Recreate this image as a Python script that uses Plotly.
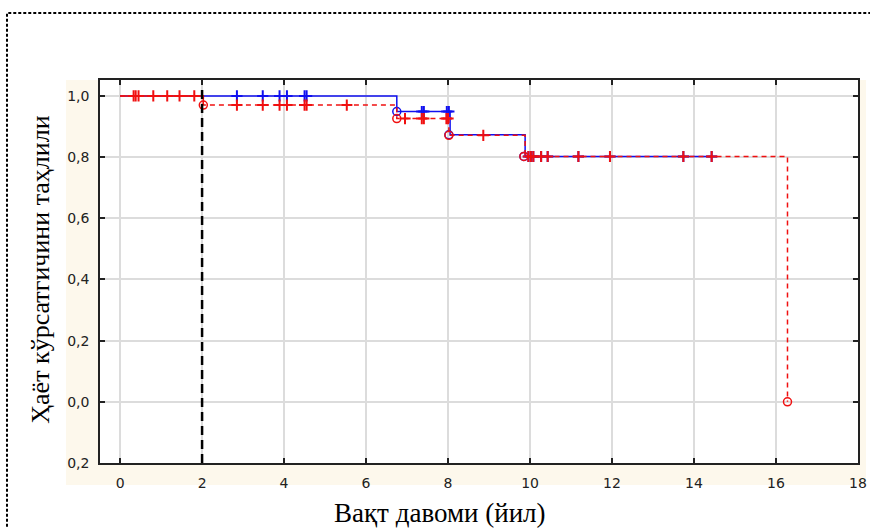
import plotly.graph_objects as go

# ---- data ----
x_ticks = [0, 2, 4, 6, 8, 10, 12, 14, 16, 18]
y_ticks = [-0.2, 0.0, 0.2, 0.4, 0.6, 0.8, 1.0]
y_tick_labels = ["0,2", "0,0", "0,2", "0,4", "0,6", "0,8", "1,0"]

cutoff_year = 2

# group 1 (blue, solid)
blue_step_x = [0, 6.75, 8.05, 9.88, 14.55]
blue_step_y = [1.0, 0.949, 0.873, 0.802, 0.802]
blue_event_x = [6.75, 8.02, 9.85]
blue_event_y = [0.949, 0.873, 0.802]
blue_cens_x = [2.85, 3.48, 3.89, 4.07, 4.5, 4.55, 7.36, 7.41, 7.97, 8.02,
               9.96, 10.02, 10.08, 10.27, 10.43, 11.18, 11.95, 13.74, 14.43]
blue_cens_y = [1.0, 1.0, 1.0, 1.0, 1.0, 1.0, 0.949, 0.949, 0.949, 0.949,
               0.802, 0.802, 0.802, 0.802, 0.802, 0.802, 0.802, 0.802, 0.802]

# group 2 (red, dashed)
red_step_x = [0, 2.03, 6.75, 8.02, 9.88, 16.28]
red_step_y = [1.0, 0.97, 0.926, 0.871, 0.802, 0.0]
red_event_x = [2.03, 6.75, 8.02, 9.85, 16.28]
red_event_y = [0.97, 0.926, 0.871, 0.802, 0.0]
red_cens_x = [0.33, 0.38, 0.45, 0.81, 1.15, 1.45, 1.81,
              2.85, 3.48, 3.89, 4.07, 4.5, 4.55, 5.53,
              6.95, 7.36, 7.41, 7.96, 8.0,
              8.86,
              9.96, 10.02, 10.08, 10.27, 10.43, 11.18, 11.95, 13.74, 14.43]
red_cens_y = [1.0] * 7 + [0.97] * 7 + [0.926] * 5 + [0.871] + [0.802] * 9

BLUE = "#1010F0"
RED = "#F01010"

fig = go.Figure()

# blue curve
fig.add_trace(go.Scatter(x=blue_step_x, y=blue_step_y, mode="lines", line_shape="hv",
                         line=dict(color=BLUE, width=1.5), showlegend=False, hoverinfo="skip"))
fig.add_trace(go.Scatter(x=blue_cens_x, y=blue_cens_y, mode="markers",
                         marker=dict(symbol="cross-thin", size=8, line=dict(color=BLUE, width=2)),
                         showlegend=False))
fig.add_trace(go.Scatter(x=blue_event_x, y=blue_event_y, mode="markers",
                         marker=dict(symbol="circle-open", size=8, color=BLUE, line=dict(width=1.5)),
                         showlegend=False))

# red curve
fig.add_trace(go.Scatter(x=red_step_x[:2], y=red_step_y[:2], mode="lines", line_shape="hv",
                         line=dict(color=RED, width=1.5), showlegend=False, hoverinfo="skip"))
fig.add_trace(go.Scatter(x=red_step_x, y=red_step_y, mode="lines", line_shape="hv",
                         line=dict(color=RED, width=1.5, dash="5px,4px"), showlegend=False))
fig.add_trace(go.Scatter(x=red_cens_x, y=red_cens_y, mode="markers",
                         marker=dict(symbol="cross-thin", size=8, line=dict(color=RED, width=2)),
                         showlegend=False))
fig.add_trace(go.Scatter(x=red_event_x, y=red_event_y, mode="markers",
                         marker=dict(symbol="circle-open", size=8, color=RED, line=dict(width=1.5)),
                         showlegend=False))

# vertical cutoff line
fig.add_shape(type="line", xref="x", yref="y", x0=cutoff_year, x1=cutoff_year,
              y0=-0.2, y1=1.03, line=dict(color="black", width=2.5, dash="9px,5px"))

# cream frame around plot area, then white plot area on top of it
fig.add_shape(type="rect", xref="paper", yref="paper", x0=-0.0449, x1=1.0106, y0=-0.0574, y1=1.0,
              fillcolor="#FDF8EC", line=dict(width=0), layer="below")
fig.add_shape(type="rect", xref="paper", yref="paper", x0=0, x1=1, y0=0, y1=1,
              fillcolor="white", line=dict(width=0), layer="below")
# dotted outer border
fig.add_shape(type="rect", xref="paper", yref="paper", x0=-0.1227, x1=1.04, y0=-0.2, y1=1.175,
              fillcolor="rgba(0,0,0,0)", line=dict(color="black", width=2, dash="3px,2px"))

tick_font = dict(family="DejaVu Sans", size=14, color="#222")
fig.update_xaxes(range=[-0.49, 18], tickvals=x_ticks, ticktext=[str(v) for v in x_ticks],
                 showgrid=True, gridcolor="#DCDCDC", gridwidth=1.5,
                 showline=True, linecolor="#222", linewidth=1.5, mirror="allticks",
                 ticks="inside", ticklen=5, tickcolor="#222", tickwidth=1.5,
                 tickfont=tick_font, ticklabelstandoff=6, zeroline=False, automargin=False)
fig.update_yaxes(range=[-0.2, 1.052], tickvals=y_ticks, ticktext=y_tick_labels,
                 showgrid=True, gridcolor="#DCDCDC", gridwidth=1.5,
                 showline=True, linecolor="#222", linewidth=1.5, mirror="allticks",
                 ticks="inside", ticklen=5, tickcolor="#222", tickwidth=1.5,
                 tickfont=tick_font, ticklabelstandoff=6, zeroline=False, automargin=False)

fig.add_annotation(text="Вақт давоми (йил)", xref="paper", yref="paper", x=0.4485, y=-0.1305,
                   xanchor="center", yanchor="middle", showarrow=False,
                   font=dict(family="Liberation Serif", size=27, color="black"))
fig.add_annotation(text="Ҳаёт кўрсатгичини таҳлили", xref="paper", yref="paper", x=-0.079, y=0.505,
                   xanchor="center", yanchor="middle", showarrow=False, textangle=-90,
                   font=dict(family="Liberation Serif", size=26, color="black"))

fig.update_layout(width=870, height=528, margin=dict(l=100, r=12, t=80, b=65),
                  paper_bgcolor="white", plot_bgcolor="white")

fig.write_html("out.html", config={"displayModeBar": False},
               post_script="document.body.style.margin='0';document.body.style.overflow='hidden';")
